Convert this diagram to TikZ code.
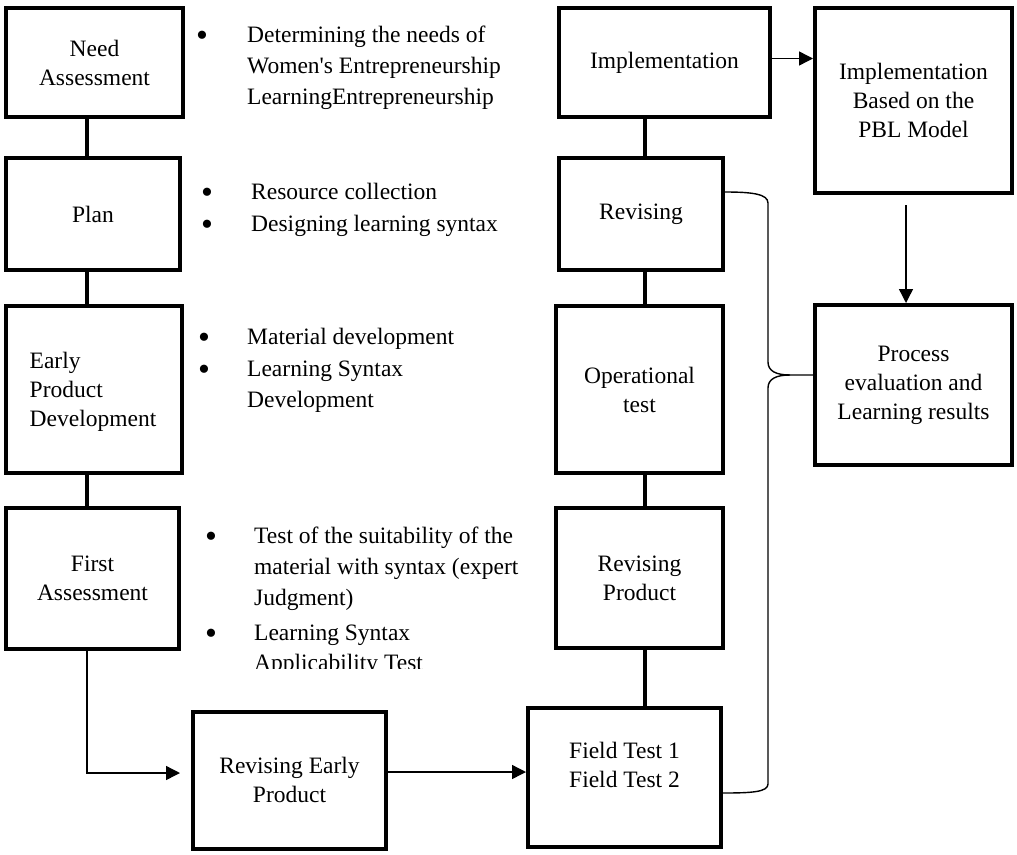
\documentclass[tikz,border=0pt]{standalone}
\usepackage{fontspec}
\setmainfont{Liberation Serif}
\usetikzlibrary{arrows.meta}
\newcommand{\dfont}{\fontsize{23.5}{29}\selectfont}
\newcommand{\bigbul}{{\fontsize{34}{34}\selectfont\textbullet}}
\begin{document}
\begin{tikzpicture}[x=1pt,y=-1pt,
  box/.style={draw, line width=4pt, rectangle, inner sep=0pt, align=center, font=\dfont},
  conn/.style={line width=4pt},
  thinline/.style={line width=1.4pt},
  arr/.style={line width=1.4pt, -{Triangle[length=14pt,width=14pt]}},
  txt/.style={font=\dfont, inner sep=0pt, anchor=base west},
  bul/.style={inner sep=0pt}]
\useasboundingbox (0,0) rectangle (1017,854);

% left column boxes
\node[box, minimum width=177pt, minimum height=109pt] (na) at (94.5,62.5) {Need\\Assessment};
\node[box, minimum width=174pt, minimum height=112pt] (plan) at (93,214) {Plan};
\node[box, minimum width=176pt, minimum height=167pt] (early) at (94,389.5) {};
\node[font=\dfont, align=left, inner sep=0pt] (earlyt) at (93,392) {Early\\Product\\Development};
\node[box, minimum width=173pt, minimum height=141pt] (first) at (92.5,578.5) {First\\Assessment};
\node[box, minimum width=193pt, minimum height=137pt] (rep) at (289.5,780) {Revising Early\\Product};

% right column boxes
\node[box, minimum width=193pt, minimum height=139pt] (ft) at (624.5,777.5) {};
\node[font=\dfont, align=center, inner sep=0pt] (ftt) at (624.5,765) {Field Test 1\\Field Test 2};
\node[box, minimum width=211pt, minimum height=109pt] (impl) at (664.5,62.5) {Implementation};
\node[box, minimum width=164pt, minimum height=112pt] (rev) at (641,214) {Revising};
\node[box, minimum width=167pt, minimum height=167pt] (op) at (639.5,389.5) {Operational\\test};
\node[box, minimum width=167pt, minimum height=140pt] (rp) at (639.5,578) {Revising\\Product};
\node[box, minimum width=197pt, minimum height=185pt] (ib) at (913.5,100.5) {Implementation\\Based on the\\PBL Model};
\node[box, minimum width=197pt, minimum height=160pt] (pe) at (913.5,385) {Process\\evaluation and\\Learning results};

% thick connectors
\coordinate (lx) at (87,0);
\coordinate (rx) at (645,0);
\draw[conn] (na.south -| lx) -- (plan.north -| lx);
\draw[conn] (plan.south -| lx) -- (early.north -| lx);
\draw[conn] (early.south -| lx) -- (first.north -| lx);
\draw[conn] (impl.south -| rx) -- (rev.north -| rx);
\draw[conn] (rev.south -| rx) -- (op.north -| rx);
\draw[conn] (op.south -| rx) -- (rp.north -| rx);
\draw[conn] (rp.south -| rx) -- (ft.north -| rx);

% arrows
\draw[arr] ([xshift=-5.5pt]first.south) |- ([xshift=-11pt,yshift=7pt]rep.west);
\draw[arr] ([yshift=8pt]rep.east) -- ([yshift=8pt]rep.east -| ft.west);
\draw[arr] ([yshift=4pt]impl.east) -- ([yshift=4pt]impl.east -| ib.west);
\draw[arr] ([xshift=-7.5pt,yshift=-10pt]ib.south) -- ([xshift=-7.5pt]pe.north);

% brace
\draw[thinline] ([yshift=22pt]rev.east) .. controls (752,192) and (768,194) .. (768,203)
  -- (768,362) .. controls (768,371) and (776,375) .. (790,375) -- ([yshift=10pt]pe.west);
\draw[thinline] (790,375) .. controls (776,375) and (768,379) .. (768,388)
  -- (768,784) .. controls (768,792) and (752,793) .. ([yshift=-15.5pt]ft.east);

% bullet texts
\node[bul] (b1) at (202,39) {\bigbul};
\node[txt] (t1a) at (247,42) {Determining the needs of};
\node[txt] (t1b) at (247,73) {Women\textquotesingle s Entrepreneurship};
\node[txt] (t1c) at (247,104) {LearningEntrepreneurship};

\node[bul] (b2) at (207,196) {\bigbul};
\node[txt] (t2a) at (251,199) {Resource collection};
\node[bul] (b3) at (207,228) {\bigbul};
\node[txt] (t2b) at (251,231) {Designing learning syntax};

\node[bul] (b4) at (204,341) {\bigbul};
\node[txt] (t3a) at (247,344) {Material development};
\node[bul] (b5) at (204,373) {\bigbul};
\node[txt] (t3b) at (247,376) {Learning Syntax};
\node[txt] (t3c) at (247,407) {Development};

\node[bul] (b6) at (211,540) {\bigbul};
\node[txt] (t4a) at (254,543) {Test of the suitability of the};
\node[txt] (t4b) at (254,574) {material with syntax (expert};
\node[txt] (t4c) at (254,605) {Judgment)};
\node[bul] (b7) at (211,637) {\bigbul};
\node[txt] (t4d) at (254,640) {Learning Syntax};
\begin{scope}
\clip (200,645) rectangle (560,668);
\node[txt] (t4e) at (254,670) {Applicability Test};
\end{scope}
\end{tikzpicture}
\end{document}
